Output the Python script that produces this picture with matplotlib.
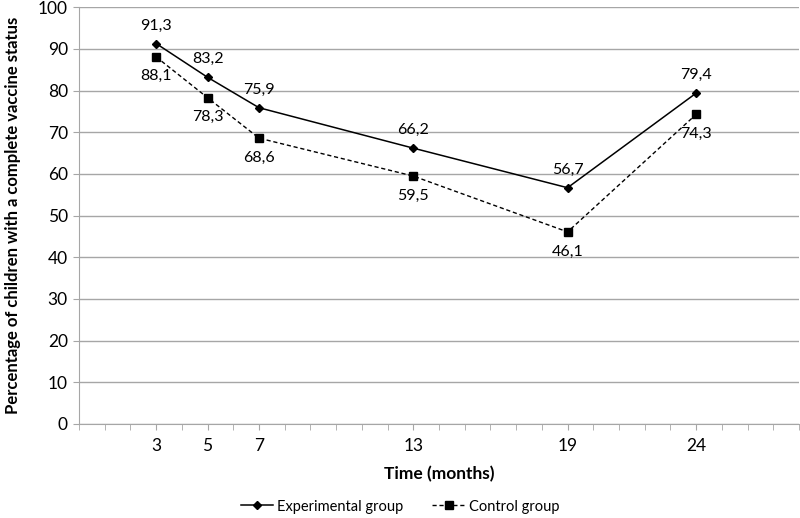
import matplotlib
matplotlib.use("Agg")
import matplotlib.pyplot as plt

plt.rcParams['font.family'] = ['Lato', 'DejaVu Sans']

# data
months = [3, 5, 7, 13, 19, 24]
experimental = [91.3, 83.2, 75.9, 66.2, 56.7, 79.4]
control = [88.1, 78.3, 68.6, 59.5, 46.1, 74.3]
tick_labels = ['3', '5', '7', '13', '19', '24']

fig = plt.figure(figsize=(8, 5.18), dpi=100)
ax = fig.add_axes([0.09875, 0.1815, 0.9, 0.8044])

grey = '#a6a6a6'

ax.plot(months, experimental, color='black', linewidth=1.1, marker='D',
        markersize=4.5, label='Experimental group', zorder=3)
ax.plot(months, control, color='black', linewidth=1.0, linestyle=(0, (3, 2)),
        marker='s', markersize=6, label='Control group', zorder=3)

for x, y in zip(months, experimental):
    ax.annotate(f'{y:.1f}'.replace('.', ','), (x, y), xytext=(0, 8),
                textcoords='offset points', ha='center', va='bottom', fontsize=11.5)
for x, y in zip(months, control):
    ax.annotate(f'{y:.1f}'.replace('.', ','), (x, y), xytext=(0, -9),
                textcoords='offset points', ha='center', va='top', fontsize=11.5)

ax.set_xlim(0, 28)
ax.set_ylim(0, 100)
ax.set_yticks(range(0, 101, 10))
ax.set_xticks(range(0, 29), minor=True)
ax.set_xticks(months)
ax.set_xticklabels(tick_labels)
ax.tick_params(axis='x', which='both', length=4, color=grey, labelsize=12.5, pad=6)
ax.tick_params(axis='y', length=4, color=grey, labelsize=12.5, pad=4)

ax.yaxis.grid(True, color=grey, linewidth=1)
ax.set_axisbelow(True)
for s in ['top', 'right']:
    ax.spines[s].set_visible(False)
for s in ['left', 'bottom']:
    ax.spines[s].set_color(grey)

ax.set_xlabel('Time (months)', fontsize=12.5, fontweight='bold', labelpad=9)
ax.set_ylabel('Percentage of children with a complete vaccine status',
              fontsize=12, fontweight='bold', labelpad=12)

fig.legend(loc='center', bbox_to_anchor=(0.5, 0.022), ncol=2, frameon=False,
           fontsize=10.5, handlelength=2.2, columnspacing=2.0, handletextpad=0.3)

fig.savefig('out.png', dpi=100)
